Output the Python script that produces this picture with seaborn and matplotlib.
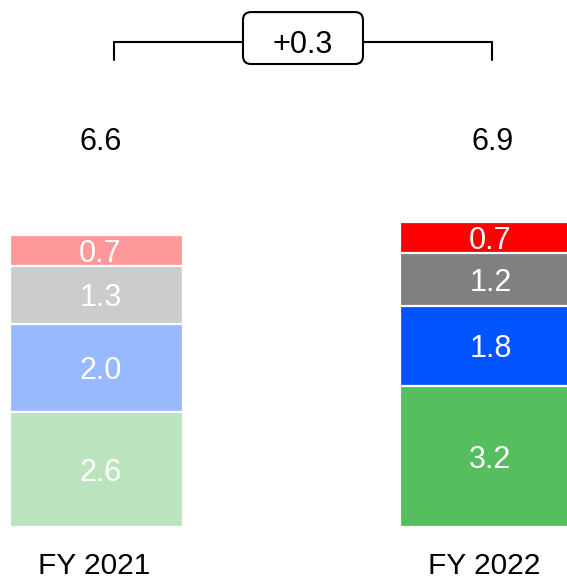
import matplotlib
matplotlib.use("Agg")
import matplotlib.pyplot as plt
from matplotlib.patches import FancyBboxPatch
import seaborn as sns
import pandas as pd
import numpy as np

sns.set_theme(style="white")
plt.rcParams["font.family"] = ["Liberation Sans", "DejaVu Sans"]

# ---- data ----
years = ["FY 2021", "FY 2022"]
segments = ["Green", "Blue", "Grey", "Red"]          # bottom -> top
green_vals = [2.6, 3.2]
blue_vals = [2.0, 1.8]
grey_vals = [1.3, 1.2]
red_vals = [0.7, 0.7]
totals = [6.6, 6.9]
delta_label = "+0.3"

colors_2021 = {"Green": "#BBE4BE", "Blue": "#99B9FF", "Grey": "#CCCCCC", "Red": "#FF9999"}
colors_2022 = {"Green": "#55BE5F", "Blue": "#0055FF", "Grey": "#808080", "Red": "#FF0000"}

seg_vals = {"Green": green_vals, "Blue": blue_vals, "Grey": grey_vals, "Red": red_vals}

fig = plt.figure(figsize=(5.67, 5.79), dpi=100)
ax = fig.add_axes([0, 0, 1, 1])

bar_w = 0.444
# draw cumulative bars from the top segment down so lower ones overlap
cum = np.zeros(len(years))
cums = {}
for s in segments:
    cum = cum + np.array(seg_vals[s])
    cums[s] = cum.copy()

for s in reversed(segments):
    df = pd.DataFrame({"year": years, "value": cums[s]})
    sns.barplot(data=df, x="year", y="value", hue="year",
                palette=[colors_2021[s], colors_2022[s]], order=years,
                hue_order=years, dodge=False, width=bar_w, legend=False,
                saturation=1, edgecolor="white", linewidth=1.6, ax=ax)

# segment labels
for i in range(len(years)):
    base = 0.0
    for s in segments:
        v = seg_vals[s][i]
        ax.text(i + 0.01, base + v / 2, f"{v:.1f}", ha="center",
                va="center_baseline", color="white", fontsize=22)
        base += v

# total labels
total_y = 8.8
total_x = [0.01, 1.015]
for i, t in enumerate(totals):
    ax.text(total_x[i], total_y, f"{t:.1f}", ha="center", va="center_baseline",
            color="black", fontsize=22)

# category labels
for i, y in enumerate(years):
    ax.text(i - 0.005, -0.88, y, ha="center", va="center", color="black", fontsize=21.5)

# bracket
bx0, bx1 = 0.045, 1.014
by, by_tick = 10.97, 10.57
ax.plot([bx0, bx0, bx1, bx1], [by_tick, by, by, by_tick], color="black",
        lw=1.5, solid_joinstyle="miter", zorder=3)
xpx, ypx = 390.0, 44.2
box_x0, box_x1 = 0.3756, 0.6833
box_y0, box_y1 = 10.475, 11.65
r = 8 / xpx
box = FancyBboxPatch((box_x0, box_y0), box_x1 - box_x0, box_y1 - box_y0,
                     boxstyle=f"round,pad=0,rounding_size={r}",
                     mutation_aspect=xpx / ypx, facecolor="white",
                     edgecolor="black", lw=1.5, zorder=4)
ax.add_patch(box)
ax.text((box_x0 + box_x1) / 2, (box_y0 + box_y1) / 2 - 0.07, delta_label, ha="center",
        va="center_baseline", fontsize=22, color="black", zorder=5)

ax.set_xlim(-96.5 / xpx, (567 - 96.5) / xpx)
ax.set_ylim(-52 / ypx, 527 / ypx)
ax.axis("off")

fig.savefig("out.png", dpi=100)
